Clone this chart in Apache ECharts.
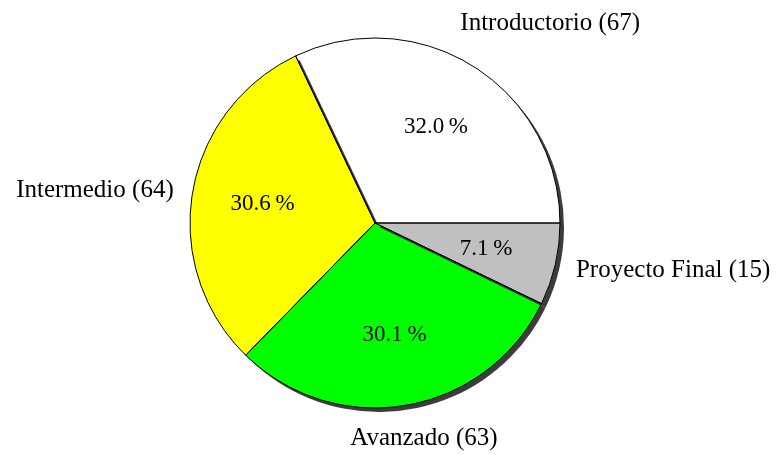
<!DOCTYPE html>
<html>
<head>
<meta charset="utf-8">
<script src="https://cdn.jsdelivr.net/npm/echarts/dist/echarts.min.js"></script>
<style>html,body{margin:0;padding:0;background:#fff}#c{width:776px;height:455px}</style>
</head>
<body>
<div id="c"></div>
<script>
const categories = ['Introductorio', 'Intermedio', 'Avanzado', 'Proyecto Final'];
const counts = [67, 64, 63, 15];
const colors = ['#ffffff', '#ffff00', '#00ff00', '#c0c0c0'];

const total = counts.reduce((a, b) => a + b, 0);
const pctLabels = counts.map(v => (Math.floor(v / total * 1000) / 10).toFixed(1) + '\u2009%');

const FONT = 'Liberation Serif';
const chart = echarts.init(document.getElementById('c'), null, {renderer: 'canvas'});

const labelShift = {0: [-26, -31], 2: [-64, 19], 3: [2, 3]};
const common = {
  type: 'pie',
  center: [375, 223],
  startAngle: 0,
  clockwise: false,
  avoidLabelOverlap: false,
  emphasis: {disabled: true}
};

chart.setOption({
  animation: false,
  backgroundColor: '#ffffff',
  series: [
    Object.assign({}, common, {
      // fills with drop shadow
      radius: [0, 185],
      z: 1,
      data: categories.map((n, i) => ({name: n, value: counts[i], itemStyle: {color: colors[i]}})),
      itemStyle: {
        borderWidth: 0,
        shadowColor: '#3c3c3c',
        shadowBlur: 0,
        shadowOffsetX: 4,
        shadowOffsetY: 4
      },
      label: {show: false},
      labelLine: {show: false}
    }),
    Object.assign({}, common, {
      // outlines + outside labels
      radius: [0, 185],
      z: 2,
      data: categories.map((n, i) => ({name: n, value: counts[i]})),
      itemStyle: {color: 'rgba(0,0,0,0)', borderColor: '#000000', borderWidth: 1},
      label: {
        show: true,
        position: 'outside',
        formatter: p => p.name + ' (' + p.value + ')',
        fontFamily: FONT,
        fontSize: 25,
        color: '#000000'
      },
      labelLine: {show: false, length: 14, length2: 0},
      labelLayout: function (params) {
        const s = labelShift[params.dataIndex];
        return s ? {dx: s[0], dy: s[1]} : {};
      }
    }),
    Object.assign({}, common, {
      // inside percentage labels
      radius: [0, 222],
      silent: true,
      z: 5,
      data: categories.map((n, i) => ({name: n, value: counts[i]})),
      itemStyle: {color: 'rgba(0,0,0,0)', borderWidth: 0},
      label: {
        show: true,
        position: 'inner',
        formatter: p => pctLabels[p.dataIndex],
        fontFamily: FONT,
        fontSize: 23,
        color: '#000000'
      },
      labelLine: {show: false}
    })
  ]
});
</script>
</body>
</html>
